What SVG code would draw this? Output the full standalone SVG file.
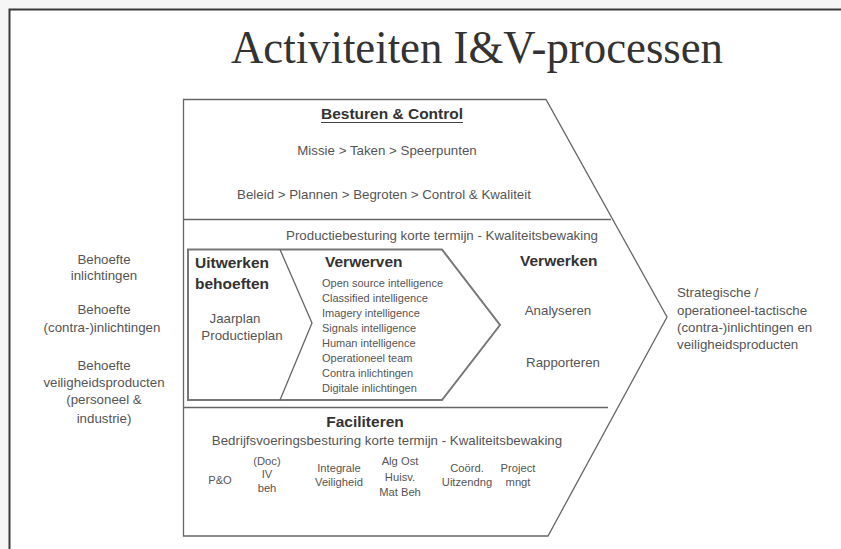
<svg xmlns="http://www.w3.org/2000/svg" width="841" height="549" viewBox="0 0 841 549">
<style>
.t{font-family:"Liberation Sans",Arial,sans-serif;font-size:13.3px;fill:#555}
.s{font-family:"Liberation Sans",Arial,sans-serif;font-size:11px;fill:#555}
.f{font-family:"Liberation Sans",Arial,sans-serif;font-size:11.2px;fill:#555;text-anchor:middle}
.h{font-family:"Liberation Sans",Arial,sans-serif;font-size:15.5px;font-weight:bold;fill:#333}
.c{text-anchor:middle}
.ln{fill:none;stroke:#666;stroke-width:1.3}
.box{fill:none;stroke:#777;stroke-width:2}
</style>
<rect x="0" y="0" width="841" height="549" fill="#f6f6f6"/>
<rect x="10" y="10" width="831" height="539" fill="#fff"/>
<path d="M9.5 549V9.5H841" fill="none" stroke="#3a3a3a" stroke-width="2"/>
<g id="title">
<text x="477" y="63" font-family="'Liberation Serif','Times New Roman',serif" font-size="47" fill="#333" text-anchor="middle" textLength="492" lengthAdjust="spacingAndGlyphs">Activiteiten I&amp;V-processen</text>
</g>
<g id="process-shape">
<path class="ln" d="M183.5 99.5H546L667 317L548 536H183.5Z"/>
<line class="ln" x1="183.5" y1="219.5" x2="611" y2="219.5"/>
<line class="ln" x1="183.5" y1="407.5" x2="608" y2="407.5"/>
</g>
<g id="besturen">
<text class="h c" x="392" y="119">Besturen &amp; Control</text>
<line x1="321" y1="122.5" x2="463" y2="122.5" stroke="#444" stroke-width="1.2"/>
<text class="t c" x="387" y="155">Missie &gt; Taken &gt; Speerpunten</text>
<text class="t c" x="384" y="198.5">Beleid &gt; Plannen &gt; Begroten &gt; Control &amp; Kwaliteit</text>
<text class="t c" x="442" y="239.5">Productiebesturing korte termijn - Kwaliteitsbewaking</text>
</g>
<g id="inner-box">
<path class="box" d="M188 249.5H442L500 325L442 400H188Z"/>
<path class="ln" d="M280 249.5L312 323L280 400"/>
</g>
<g id="uitwerken">
<text class="h" x="195" y="268">Uitwerken</text>
<text class="h" x="195" y="289">behoeften</text>
<text class="t c" x="235" y="323">Jaarplan</text>
<text class="t c" x="242" y="340">Productieplan</text>
</g>
<g id="verwerven">
<text class="h" x="325" y="266.5">Verwerven</text>
<text class="s" x="322" y="286.5">Open source intelligence</text>
<text class="s" x="322" y="301.5">Classified intelligence</text>
<text class="s" x="322" y="316.5">Imagery intelligence</text>
<text class="s" x="322" y="331.5">Signals  intelligence</text>
<text class="s" x="322" y="346.5">Human intelligence</text>
<text class="s" x="322" y="361.5">Operationeel team</text>
<text class="s" x="322" y="376.5">Contra inlichtingen</text>
<text class="s" x="322" y="391.5">Digitale inlichtingen</text>
</g>
<g id="verwerken">
<text class="h" x="520" y="266">Verwerken</text>
<text class="t c" x="558" y="315">Analyseren</text>
<text class="t c" x="563" y="367">Rapporteren</text>
</g>
<g id="faciliteren">
<text class="h c" x="365" y="426.5">Faciliteren</text>
<text class="t c" x="387" y="445">Bedrijfsvoeringsbesturing korte termijn - Kwaliteitsbewaking</text>
<text class="f" x="220" y="484">P&amp;O</text>
<text class="f" x="267" y="465">(Doc)</text>
<text class="f" x="267" y="478">IV</text>
<text class="f" x="267" y="491.5">beh</text>
<text class="f" x="339" y="471.5">Integrale</text>
<text class="f" x="339" y="486">Veiligheid</text>
<text class="f" x="400" y="465">Alg Ost</text>
<text class="f" x="400" y="480.5">Huisv.</text>
<text class="f" x="400" y="496">Mat Beh</text>
<text class="f" x="467" y="471.5">Coörd.</text>
<text class="f" x="467" y="486">Uitzendng</text>
<text class="f" x="518" y="471.5">Project</text>
<text class="f" x="518" y="486">mngt</text>
</g>
<g id="inputs">
<text class="t c" x="104" y="263.5">Behoefte</text>
<text class="t c" x="104" y="280">inlichtingen</text>
<text class="t c" x="104" y="313.5">Behoefte</text>
<text class="t c" x="102" y="331.5">(contra-)inlichtingen</text>
<text class="t c" x="104" y="370">Behoefte</text>
<text class="t c" x="104" y="387">veiligheidsproducten</text>
<text class="t c" x="104" y="404">(personeel &amp;</text>
<text class="t c" x="104" y="423">industrie)</text>
</g>
<g id="outputs">
<text class="t" x="677" y="297">Strategische /</text>
<text class="t" x="677" y="314.5">operationeel-tactische</text>
<text class="t" x="677" y="332">(contra-)inlichtingen en</text>
<text class="t" x="677" y="349">veiligheidsproducten</text>
</g>
</svg>
